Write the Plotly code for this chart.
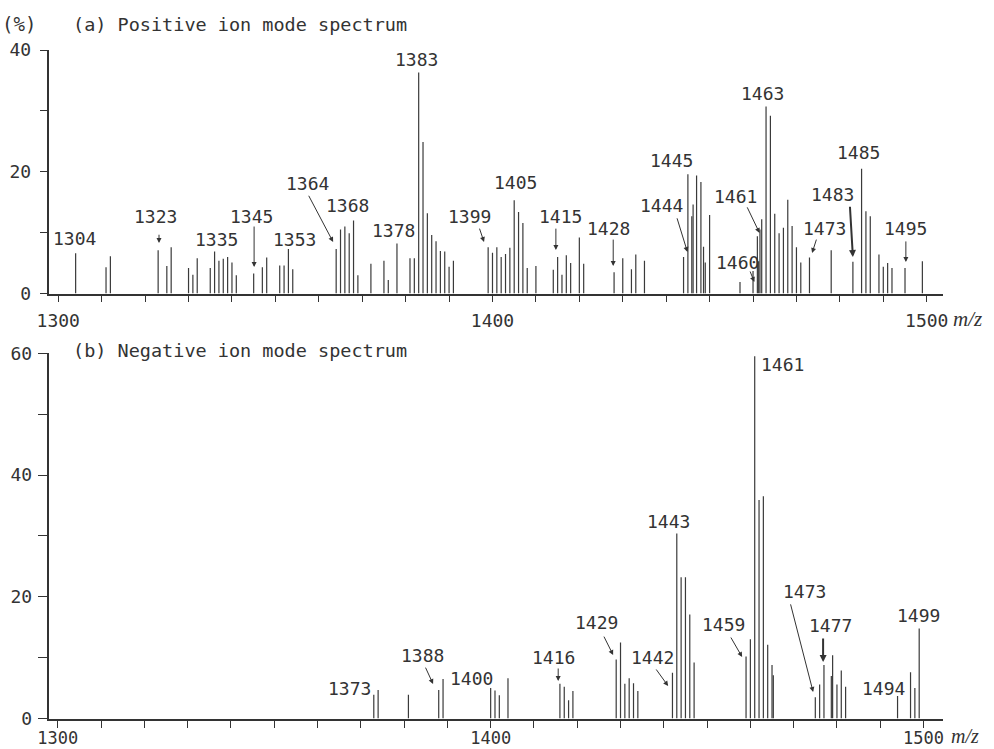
import plotly.graph_objects as go

# ---------------- data ----------------
# (a) positive ion mode: m/z and relative intensity (%)
pos_mz = [1304, 1311, 1312, 1323, 1325, 1326, 1330, 1331, 1332, 1335, 1336, 1337, 1338, 1339,
          1340, 1341, 1345, 1347, 1348, 1351, 1352, 1353, 1354, 1364, 1365, 1366, 1367, 1368,
          1369, 1372, 1375, 1376, 1378, 1381, 1382, 1383, 1384, 1385, 1386, 1387, 1388, 1389,
          1390, 1391, 1399, 1400, 1401, 1402, 1403, 1404, 1405, 1406, 1407, 1408, 1410, 1414,
          1415, 1416, 1417, 1418, 1420, 1421, 1428, 1430, 1432, 1433, 1435, 1444, 1445, 1445.9,
          1446.2, 1447, 1448, 1448.6, 1449, 1450, 1457, 1460, 1461, 1461.3, 1461.6, 1462, 1463,
          1464, 1465, 1466, 1467, 1468, 1469, 1470, 1471, 1473, 1478, 1483, 1485, 1486, 1487,
          1489, 1490, 1491, 1492, 1495, 1499]
pos_int = [6.6, 4.3, 6.1, 7.1, 4.5, 7.6, 4.2, 3.1, 5.8, 4.2, 6.9, 5.4, 5.7, 6.0,
           5.1, 3.0, 3.3, 4.3, 5.9, 4.6, 4.6, 7.3, 4.0, 7.3, 10.5, 11.0, 9.9, 12.0,
           3.0, 4.9, 5.4, 2.2, 8.2, 5.8, 5.8, 36.3, 24.9, 13.2, 9.6, 8.6, 7.0, 6.9,
           4.4, 5.4, 7.6, 6.7, 7.6, 6.0, 6.5, 7.5, 15.3, 13.4, 11.6, 4.2, 4.5, 3.9,
           6.0, 3.1, 6.3, 5.0, 9.2, 4.9, 3.5, 5.8, 4.0, 6.4, 5.4, 6.0, 19.6, 12.7,
           14.6, 19.4, 18.3, 7.7, 5.1, 12.9, 1.9, 3.7, 9.4, 5.3, 10.5, 12.2, 30.7,
           29.2, 13.1, 9.9, 10.8, 15.4, 11.1, 7.6, 5.1, 5.9, 7.1, 5.2, 20.5, 13.5, 12.7,
           6.4, 4.4, 5.0, 4.2, 4.2, 5.3]

# (b) negative ion mode
neg_mz = [1373, 1374, 1381, 1388, 1389, 1400, 1401, 1402, 1404, 1416, 1417, 1418, 1419,
          1429, 1430, 1431, 1432, 1433, 1434, 1442, 1443, 1444, 1445, 1446, 1447, 1459, 1460,
          1461, 1462, 1463, 1464, 1465, 1465.3, 1475, 1476, 1477, 1478.7, 1479, 1480, 1481,
          1482, 1494, 1497, 1498, 1499]
neg_int = [3.9, 4.7, 3.9, 4.7, 6.5, 5.0, 4.6, 3.8, 6.6, 5.7, 5.2, 3.0, 4.5,
           9.7, 12.5, 5.7, 6.6, 5.8, 4.5, 7.5, 30.4, 23.2, 23.2, 17.1, 9.2, 10.2, 13.0,
           59.5, 35.9, 36.5, 12.1, 8.8, 7.1, 3.5, 5.6, 8.8, 7.0, 10.4, 5.6, 7.9,
           5.2, 3.7, 7.6, 5.0, 14.8]

x_tick_vals = list(range(1300, 1501, 10))
x_tick_text = ["1300" if v == 1300 else "1400" if v == 1400 else "1500" if v == 1500 else "" for v in x_tick_vals]
pos_y_ticks = [0, 10, 20, 30, 40]
pos_y_text = ["0", "", "20", "", "40"]
neg_y_ticks = [0, 10, 20, 30, 40, 50, 60]
neg_y_text = ["0", "", "20", "", "40", "", "60"]

# peak labels: (text, label x, label y)
pos_labels = [("1304", 1303.85, 9.1), ("1323", 1322.3, 12.7), ("1335", 1336.5, 8.95),
              ("1345", 1344.4, 12.7), ("1353", 1354.5, 8.8), ("1364", 1357.3, 18.15),
              ("1368", 1366.7, 14.5), ("1378", 1377.3, 10.4), ("1383", 1382.6, 38.5),
              ("1399", 1394.8, 12.7), ("1405", 1405.2, 18.3), ("1415", 1415.6, 12.7),
              ("1428", 1426.8, 10.6), ("1444", 1438.9, 14.5), ("1445", 1441.2, 21.9),
              ("1461", 1455.9, 16.0), ("1460", 1456.4, 5.17), ("1463", 1462.1, 32.9),
              ("1473", 1476.35, 10.6), ("1483", 1478.4, 16.3), ("1485", 1484.2, 23.1),
              ("1495", 1495.2, 10.6)]
# arrows: (tail x, tail y, head x, head y, width)
pos_arrows = [(1323.2, 9.9, 1323.2, 8.3, 1), (1345.1, 11.25, 1345.1, 4.35, 1),
              (1357.5, 16.3, 1363.3, 8.46, 1), (1396.9, 10.9, 1398.05, 8.46, 1),
              (1414.6, 10.9, 1414.6, 7.15, 1), (1427.8, 9.1, 1427.8, 4.52, 1),
              (1442.4, 12.6, 1444.9, 6.82, 1), (1458.5, 14.4, 1461.5, 9.94, 1),
              (1459.2, 3.86, 1460.3, 1.89, 1), (1474.7, 9.1, 1473.6, 6.65, 1),
              (1482.3, 14.5, 1483.0, 6.0, 2), (1495.2, 8.8, 1495.2, 5.17, 1)]

neg_labels = [("1373", 1367.5, 5.0), ("1388", 1384.15, 10.3), ("1400", 1395.5, 6.5),
              ("1416", 1414.4, 10.1), ("1429", 1424.35, 15.7), ("1442", 1437.3, 10.1),
              ("1443", 1441.0, 32.3), ("1459", 1453.7, 15.4), ("1473", 1472.4, 20.8),
              ("1477", 1478.4, 15.2), ("1494", 1490.8, 5.0), ("1499", 1498.9, 17.0)]
neg_arrows = [(1384.8, 8.6, 1386.7, 5.67, 1), (1415.6, 8.46, 1415.6, 6.16, 1),
              (1426.0, 13.7, 1428.3, 10.43, 1), (1438.0, 8.3, 1441.0, 5.34, 1),
              (1455.3, 13.55, 1458.1, 10.1, 1), (1469.2, 19.0, 1474.5, 4.35, 1),
              (1476.8, 13.4, 1476.8, 9.28, 2)]

# ---------------- figure ----------------
W, H = 994, 749
FONT = "DejaVu Sans Mono"
INK = "#333333"
BAR = "#3a3a3a"


def px(x):
    return x / W


def py(y):
    return 1 - y / H


def stems(mz, val):
    xs, ys = [], []
    for m, v in zip(mz, val):
        xs += [m, m, None]
        ys += [0, v, None]
    return xs, ys


fig = go.Figure()
xa, ya = stems(pos_mz, pos_int)
fig.add_trace(go.Scatter(x=xa, y=ya, mode="lines", line=dict(color=BAR, width=1.2),
                         xaxis="x", yaxis="y", hoverinfo="skip", showlegend=False))
xb, yb = stems(neg_mz, neg_int)
fig.add_trace(go.Scatter(x=xb, y=yb, mode="lines", line=dict(color=BAR, width=1.2),
                         xaxis="x2", yaxis="y2", hoverinfo="skip", showlegend=False))

axis_common = dict(showgrid=False, zeroline=False, showline=True, linecolor=INK, linewidth=1.5,
                   ticks="outside", tickcolor=INK, tickwidth=1.3, automargin=False)
tick_font = dict(family=FONT, size=18, color=INK)

fig.update_layout(
    width=W, height=H, autosize=False,
    margin=dict(l=0, r=0, t=0, b=0),
    paper_bgcolor="white", plot_bgcolor="white",
    xaxis=dict(domain=[px(48.5), px(943)], range=[1297.75, 1503.75], anchor="y",
               tickmode="array", tickvals=x_tick_vals, ticktext=x_tick_text, ticklen=7,
               ticklabelstandoff=3, tickfont=tick_font, **axis_common),
    yaxis=dict(domain=[py(293.5), py(50)], range=[0, 40], anchor="x",
               tickmode="array", tickvals=pos_y_ticks, ticktext=pos_y_text, ticklen=7,
               ticklabelstandoff=5, tickfont=tick_font, **axis_common),
    xaxis2=dict(domain=[px(48.5), px(943)], range=[1297.85, 1504.5], anchor="y2",
                tickmode="array", tickvals=x_tick_vals, ticktext=x_tick_text, ticklen=8,
                ticklabelstandoff=-5, tickfont=dict(family=FONT, size=17, color=INK),
                **axis_common),
    yaxis2=dict(domain=[py(718.5), py(353.3)], range=[0, 60], anchor="x2",
                tickmode="array", tickvals=neg_y_ticks, ticktext=neg_y_text, ticklen=9,
                ticklabelstandoff=2, tickfont=tick_font, **axis_common),
)

ann = []
lab_font = dict(family=FONT, size=18, color=INK)
for t, x, y in pos_labels:
    ann.append(dict(text=t, x=x, y=y, xref="x", yref="y", showarrow=False,
                    xanchor="center", yanchor="middle", font=lab_font))
for tx, ty, hx, hy, w in pos_arrows:
    ann.append(dict(text="", x=hx, y=hy, ax=tx, ay=ty, xref="x", yref="y", axref="x", ayref="y",
                    showarrow=True, arrowhead=2, arrowsize=1 if w == 1 else 0.7,
                    arrowwidth=w, arrowcolor=INK))
for t, x, y in neg_labels:
    ann.append(dict(text=t, x=x, y=y, xref="x2", yref="y2", showarrow=False,
                    xanchor="center", yanchor="middle", font=lab_font))
ann.append(dict(text="1461", x=1462.0, y=58.1, xref="x2", yref="y2", showarrow=False,
                xanchor="left", yanchor="middle", font=lab_font))
for tx, ty, hx, hy, w in neg_arrows:
    ann.append(dict(text="", x=hx, y=hy, ax=tx, ay=ty, xref="x2", yref="y2", axref="x2", ayref="y2",
                    showarrow=True, arrowhead=2, arrowsize=1 if w == 1 else 0.7,
                    arrowwidth=w, arrowcolor=INK))

title_font = dict(family=FONT, size=18.5, color=INK)
ann += [
    dict(text="(%)", x=px(0), y=py(24), xref="paper", yref="paper", showarrow=False,
         xanchor="left", yanchor="middle", font=dict(family=FONT, size=19, color=INK)),
    dict(text="(a) Positive ion mode spectrum", x=px(71), y=py(24), xref="paper", yref="paper",
         showarrow=False, xanchor="left", yanchor="middle", font=title_font),
    dict(text="(b) Negative ion mode spectrum", x=px(71), y=py(350), xref="paper", yref="paper",
         showarrow=False, xanchor="left", yanchor="middle", font=title_font),
    dict(text="<i>m/z</i>", x=px(951), y=py(319), xref="paper", yref="paper", showarrow=False,
         xanchor="left", yanchor="middle", font=dict(family="Liberation Serif", size=21, color=INK)),
    dict(text="<i>m/z</i>", x=px(949), y=py(736), xref="paper", yref="paper", showarrow=False,
         xanchor="left", yanchor="middle", font=dict(family="Liberation Serif", size=20, color=INK)),
]
fig.update_layout(annotations=ann)

fig.write_html("out.html", config={"displayModeBar": False},
               post_script="document.body.style.margin='0';document.body.style.padding='0';")
